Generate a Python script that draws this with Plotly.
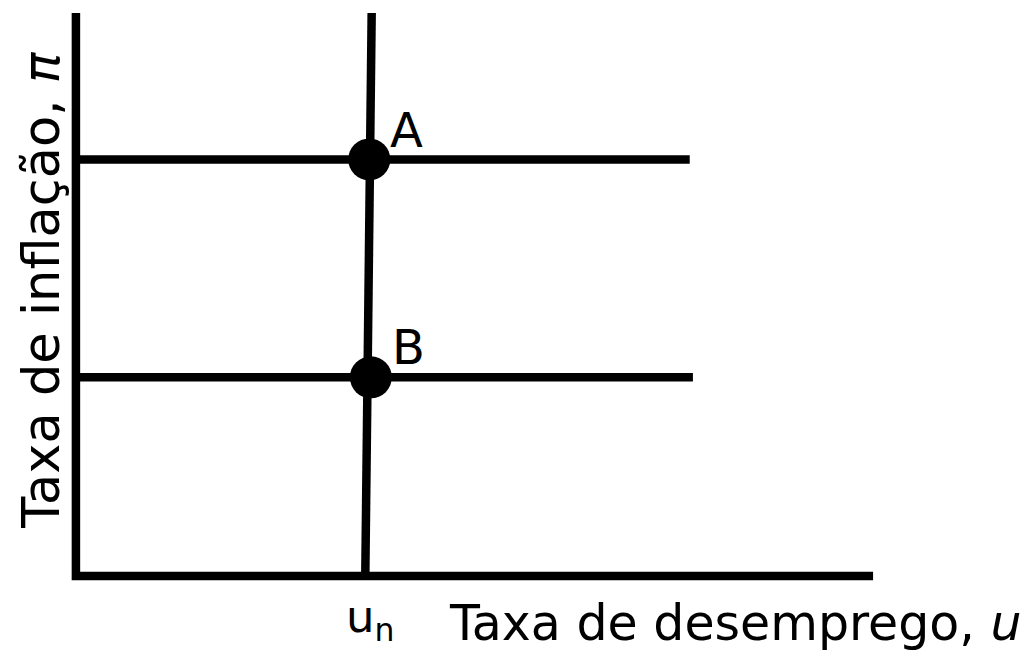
import plotly.graph_objects as go

# Data (abstract units: x = unemployment, y = inflation)
axis_x = [0, 0, 10]
axis_y = [10, 0, 0]
lrpc_x = [3.71, 3.63]          # long-run Phillips curve (near-vertical at u_n)
lrpc_y = [10, 0]
line_a_x = [0, 7.70]
line_a_y = [7.40, 7.40]
line_b_x = [0, 7.74]
line_b_y = [3.53, 3.53]
points_x = [3.68, 3.70]
points_y = [7.40, 3.53]
point_labels = ["A", "B"]
u_n = 3.69

FONT = "DejaVu Sans"
LW = 8.5

fig = go.Figure()
for xs, ys in [(axis_x, axis_y), (lrpc_x, lrpc_y), (line_a_x, line_a_y), (line_b_x, line_b_y)]:
    fig.add_trace(go.Scatter(x=xs, y=ys, mode="lines",
                             line=dict(color="black", width=LW),
                             hoverinfo="skip", showlegend=False))
fig.add_trace(go.Scatter(x=points_x, y=points_y, mode="markers",
                         marker=dict(color="black", size=42),
                         cliponaxis=False, showlegend=False))

annotations = []
for px, py, lab in zip(points_x, points_y, point_labels):
    annotations.append(dict(x=px + 0.47, y=py + 0.53, xref="x", yref="y", text=lab,
                            showarrow=False, font=dict(family=FONT, size=48, color="black")))
annotations.append(dict(x=u_n, y=-0.044, xref="x", yref="paper",
                        yanchor="middle", text="u<sub>n</sub>",
                        showarrow=False, font=dict(family=FONT, size=45, color="black")))
annotations.append(dict(x=4.66, y=-0.052, xref="x", yref="paper", xanchor="left", yanchor="middle",
                        text="Taxa de desemprego, <i>u</i>",
                        showarrow=False, font=dict(family=FONT, size=49, color="black")))
annotations.append(dict(x=-0.0125, y=0.522, xref="paper", yref="paper", textangle=-90,
                        xanchor="center", yanchor="middle",
                        text="Taxa de inflação, <i>π</i>",
                        showarrow=False, font=dict(family=FONT, size=51, color="black")))

fig.update_layout(
    width=1035, height=651,
    margin=dict(l=52, r=138, t=13, b=58),
    paper_bgcolor="white", plot_bgcolor="white",
    xaxis=dict(range=[-0.3, 10.3], visible=False),
    yaxis=dict(range=[-0.3, 10], visible=False),
    annotations=annotations,
    showlegend=False,
)
fig.write_html("out.html", config={"displayModeBar": False},
               post_script="document.body.style.margin='0';")
